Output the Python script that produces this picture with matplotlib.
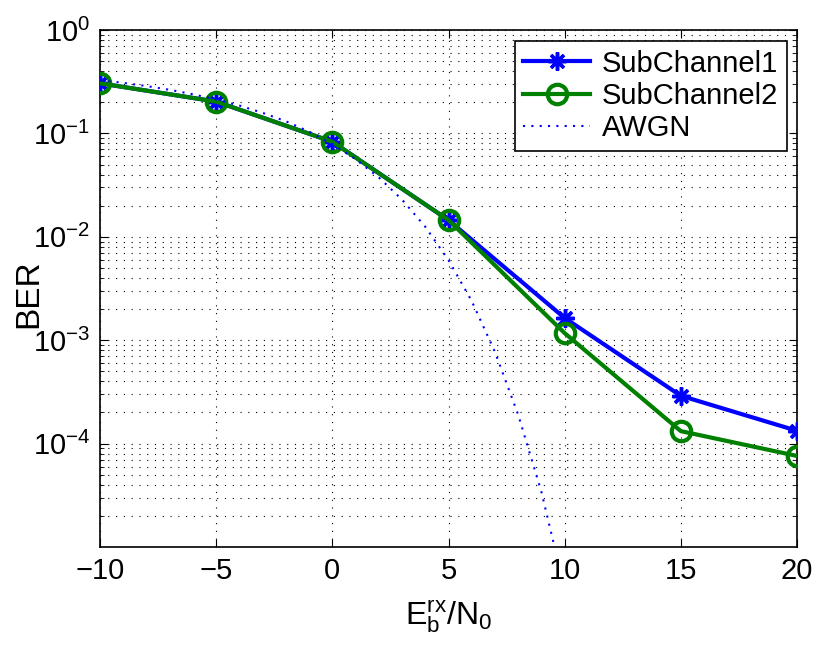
import matplotlib
matplotlib.use("Agg")
import matplotlib.pyplot as plt
import numpy as np

# values
snr_db = [-10, -5, 0, 5, 10, 15, 20]
ber_sub1 = [0.305, 0.203, 0.083, 0.0145, 0.00164, 2.9e-4, 1.33e-4]
ber_sub2 = [0.305, 0.203, 0.083, 0.0145, 0.00117, 1.32e-4, 7.6e-5]

awgn_db = [-10, -9, -8, -7, -6, -5, -4, -3, -2, -1, 0,
           1, 2, 3, 4, 5, 6, 7, 8, 9, 10]
awgn_ber = [0.327, 0.308, 0.287, 0.264, 0.239, 0.213, 0.186, 0.158, 0.131, 0.104, 0.0786,
            0.0563, 0.0375, 0.0229, 0.0125, 0.00595, 0.00239, 7.7e-4, 1.9e-4, 3.4e-5, 3.9e-6]

x_ticks = [-10, -5, 0, 5, 10, 15, 20]
x_labels = ['\u221210', '\u22125', '0', '5', '10', '15', '20']

plt.rcParams['font.family'] = ['Liberation Sans', 'DejaVu Sans']
plt.rcParams['mathtext.fontset'] = 'custom'
plt.rcParams['mathtext.rm'] = 'Liberation Sans'

fig = plt.figure(figsize=(8.17, 6.52), dpi=100)
ax = fig.add_axes([100 / 817, 1 - 547 / 652, 697 / 817, 517 / 652])

ax.semilogy(snr_db, ber_sub1, color='#0000ff', lw=3, marker=(8, 2, 0),
            ms=13, mew=2.5, label='SubChannel1', zorder=3)
ax.semilogy(snr_db, ber_sub2, color='#008000', lw=3, marker='o', ms=14,
            mew=3, mfc='none', label='SubChannel2', zorder=4)
ax.semilogy(awgn_db, awgn_ber, color='#0000ff', lw=1.5, ls=(0, (1, 3)),
            label='AWGN', zorder=5)

ax.set_xlim(-10, 20)
ax.set_ylim(1e-5, 1)
ax.set_xticks(x_ticks)
ax.set_xticklabels(x_labels)
ax.set_yticks([1e0, 1e-1, 1e-2, 1e-3, 1e-4])

ax.tick_params(which='both', direction='in', top=True, right=True, labelsize=21)
ax.tick_params(which='major', length=6, width=0.8, pad=7)
ax.tick_params(which='minor', length=3, width=0.6)
ax.xaxis.set_minor_locator(matplotlib.ticker.NullLocator())

# sparse dotted grid like matlab
ax.grid(True, which='major', ls=(0, (1, 6)), color='k', lw=0.8)
ax.grid(True, which='minor', axis='y', ls=(0, (1, 6)), color='k', lw=0.8)
for s in ax.spines.values():
    s.set_linewidth(1.2)

ax.set_ylabel('BER', fontsize=24)
ax.yaxis.set_label_coords(-0.080, 0.49)
ax.set_xlabel(r'$\mathregular{E_b^{rx}/N_0}$', fontsize=23)
ax.xaxis.set_label_coords(0.5, -0.100)

leg = ax.legend(loc='upper right', bbox_to_anchor=(0.986, 0.979), fontsize=21,
                fancybox=False, edgecolor='k', framealpha=1, borderpad=0.3,
                labelspacing=0.15, handlelength=2.3, handletextpad=0.4,
                borderaxespad=0)
leg.get_frame().set_linewidth(1.2)

fig.savefig('out.png', dpi=100)
